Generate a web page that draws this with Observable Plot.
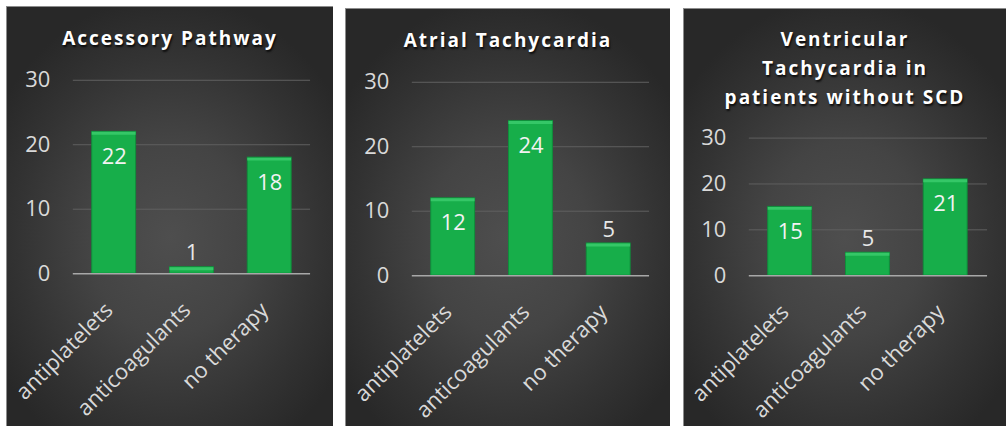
<!DOCTYPE html>
<html>
<head>
<meta charset="utf-8">
<script src="https://cdn.jsdelivr.net/npm/d3@7"></script>
<script src="https://cdn.jsdelivr.net/npm/@observablehq/plot@0.6"></script>
<style>
  html, body { margin: 0; padding: 0; background: #ffffff; }
  body { width: 1006px; height: 426px; position: relative; overflow: hidden; font-family: "Open Sans", sans-serif; }
  .panel { position: absolute; box-sizing: border-box; border-left: 1px solid #8c8c8c; border-top: 1px solid #8c8c8c; overflow: hidden; }
  .panel svg { position: absolute; left: 0; top: 0; }
  .title { position: absolute; left: 0; right: 0; text-align: center; color: #ffffff; font-weight: 700; font-size: 19px; letter-spacing: 2px; line-height: 29px; text-shadow: 1px 2px 2px rgba(0,0,0,0.8); z-index: 2; }
</style>
</head>
<body>
<div id="root"></div>
<script>
const categories = ["antiplatelets", "anticoagulants", "no therapy"];
const panelTitles = [
  ["Accessory Pathway"],
  ["Atrial Tachycardia"],
  ["Ventricular", "Tachycardia in", "patients without SCD"]
];
const accessoryPathway = [22, 1, 18];
const atrialTachycardia = [12, 24, 5];
const ventricularTachycardia = [15, 5, 21];
const yTicks = [0, 10, 20, 30];
const gridTicks = [10, 20, 30];

const seriesList = [accessoryPathway, atrialTachycardia, ventricularTachycardia];

const panels = [
  {left: 6, top: 6, width: 327, height: 420, mt: 73, mb: 153, ml: 66, mr: 23, titleTop: 17},
  {left: 345, top: 8, width: 325, height: 418, mt: 73, mb: 151, ml: 66, mr: 21, titleTop: 17},
  {left: 683, top: 8, width: 323, height: 418, mt: 129, mb: 151, ml: 65, mr: 19, titleTop: 16}
];

const root = document.getElementById("root");

panels.forEach((p, i) => {
  const data = categories.map((c, j) => ({category: c, value: seriesList[i][j]}));
  const div = document.createElement("div");
  div.className = "panel";
  Object.assign(div.style, {
    left: p.left + "px", top: p.top + "px", width: p.width + "px", height: p.height + "px",
    background: "radial-gradient(ellipse 62% 58% at 50% 55%, #4e4e4e 0%, #444444 40%, #333333 75%, #282828 100%)"
  });
  const title = document.createElement("div");
  title.className = "title";
  title.style.top = p.titleTop + "px";
  title.innerHTML = panelTitles[i].join("<br>");
  div.appendChild(title);

  const innerH = p.height - p.mt - p.mb;
  const pxPerUnit = innerH / 30;
  const fits = d => d.value * pxPerUnit > 45;

  const chart = Plot.plot({
    width: p.width,
    height: p.height,
    marginTop: p.mt,
    marginBottom: p.mb,
    marginLeft: p.ml,
    marginRight: p.mr,
    style: {background: "transparent", color: "#d9d9d9", fontFamily: "Open Sans, sans-serif"},
    x: {domain: categories, paddingInner: 0.43, paddingOuter: 0.23, label: null},
    y: {domain: [0, 30], label: null},
    marks: [
      Plot.ruleY(gridTicks, {stroke: "#5f5f5f", strokeWidth: 1}),
      Plot.barY(data, {x: "category", y: "value", fill: "#17ae4a", stroke: "#0f8f3b", strokeWidth: 1}),
      Plot.tickY(data, {x: "category", y: "value", stroke: "#35c767", strokeWidth: 3, dy: 1.5}),
      Plot.ruleY([0], {stroke: "#a8a8a8", strokeWidth: 1.5}),
      Plot.axisY({ticks: yTicks, tickSize: 0, tickPadding: 23, fontSize: 22, tickFormat: d => String(d), label: null}),
      Plot.axisX({tickRotate: -45, tickSize: 0, tickPadding: 14, dx: -5, dy: 19, fontSize: 22, label: null}),
      Plot.text(data.filter(fits), {x: "category", y: "value", text: d => String(d.value), dy: 25, fontSize: 22, fill: "#f2f2f2"}),
      Plot.text(data.filter(d => !fits(d)), {x: "category", y: "value", text: d => String(d.value), dy: -14, fontSize: 22, fill: "#e8e8e8"})
    ]
  });
  div.appendChild(chart);
  root.appendChild(div);
});
</script>
</body>
</html>
